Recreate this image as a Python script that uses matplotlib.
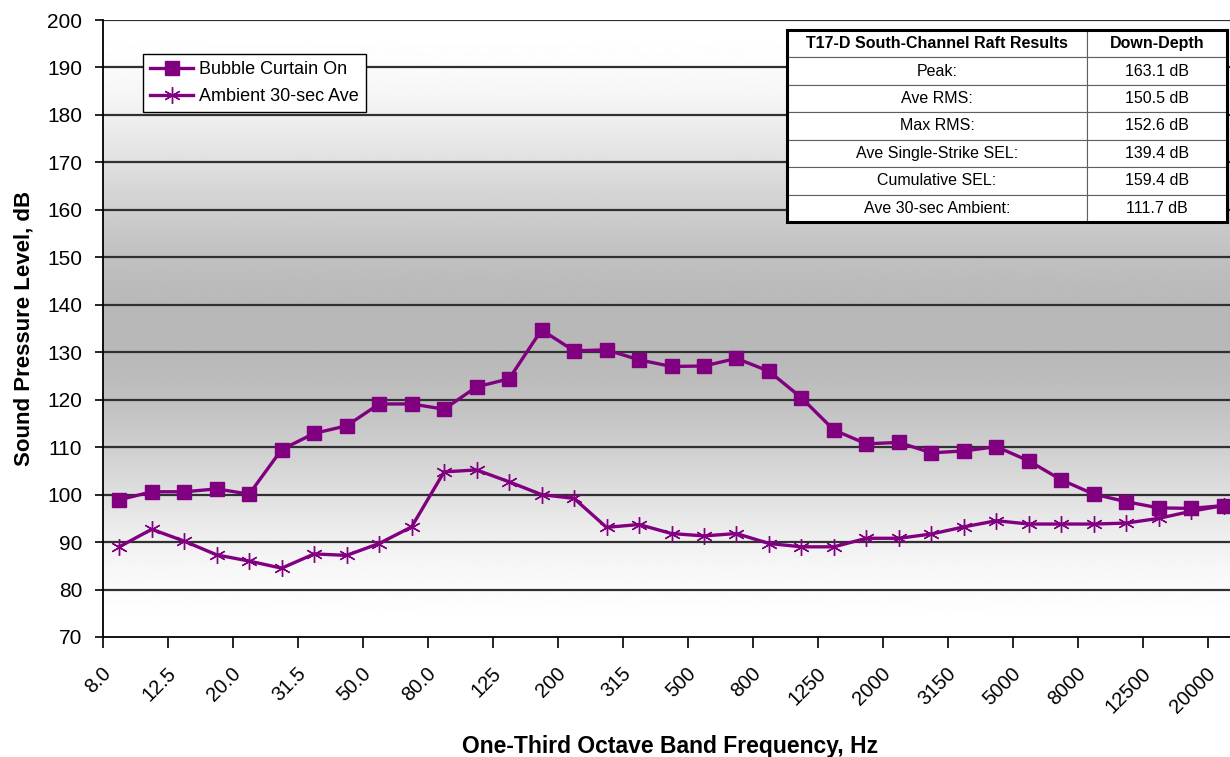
import numpy as np
import matplotlib
matplotlib.use("Agg")
import matplotlib.pyplot as plt
from matplotlib.patches import Rectangle

plt.rcParams['font.family'] = ['Liberation Sans', 'DejaVu Sans']

# one-third octave band centres, Hz
bands = ["8.0", "10.0", "12.5", "16.0", "20.0", "25.0", "31.5", "40.0", "50.0", "63.0",
         "80.0", "100", "125", "160", "200", "250", "315", "400", "500", "630",
         "800", "1000", "1250", "1600", "2000", "2500", "3150", "4000", "5000", "6300",
         "8000", "10000", "12500", "16000", "20000"]

bubble_on = [98.9, 100.6, 100.6, 101.2, 100.1, 109.5, 112.9, 114.5, 119.1, 119.1,
             118.0, 122.7, 124.4, 134.7, 130.3, 130.5, 128.4, 127.0, 127.1, 128.7,
             126.0, 120.4, 113.6, 110.7, 111.0, 108.8, 109.2, 110.1, 107.1, 103.1,
             100.1, 98.5, 97.2, 97.1, 97.7]

ambient = [89.0, 92.7, 90.2, 87.3, 86.0, 84.5, 87.5, 87.2, 89.7, 93.2,
           104.8, 105.2, 102.7, 100.0, 99.2, 93.1, 93.7, 91.8, 91.3, 91.8,
           89.7, 89.0, 89.0, 90.8, 90.8, 91.7, 93.2, 94.5, 93.8, 93.8,
           93.8, 94.0, 95.0, 96.5, 97.7]

table_title = "T17-D South-Channel Raft Results"
table_col = "Down-Depth"
metric_names = ["Peak:", "Ave RMS:", "Max RMS:", "Ave Single-Strike SEL:",
                "Cumulative SEL:", "Ave 30-sec Ambient:"]
metric_values = ["163.1 dB", "150.5 dB", "152.6 dB", "139.4 dB", "159.4 dB", "111.7 dB"]

PURPLE = "#800080"

fig = plt.figure(figsize=(12.3, 7.57), dpi=100)
ax = fig.add_axes([103 / 1230, 120 / 757, 1137 / 1230, 617 / 757])

x = np.arange(len(bands))
ymin, ymax = 70, 200
ax.set_xlim(-0.5, len(bands) - 0.5)
ax.set_ylim(ymin, ymax)

# grey band in the middle fading to white at top and bottom
t = np.linspace(0, 1, 256)
shade = 1.0 - 0.28 * np.sin(np.pi * t) ** 2
grad = np.repeat(shade[:, None], 2, axis=1)
ax.imshow(grad, cmap="gray", vmin=0, vmax=1, aspect="auto", origin="lower",
          extent=(-0.5, len(bands) - 0.5, ymin, ymax), zorder=0)

for v in range(ymin + 10, ymax + 1, 10):
    ax.axhline(v, color="#303030", lw=1.6, zorder=1)

ax.plot(x, bubble_on, color=PURPLE, lw=2.4, marker="s", ms=10,
        label="Bubble Curtain On", zorder=3)
ax.plot(x, ambient, color=PURPLE, lw=2.4, marker=(6, 2, 0), ms=12, mew=1.0,
        label="Ambient 30-sec Ave", zorder=3)

ax.set_yticks(range(ymin, ymax + 1, 10))
ax.tick_params(axis="y", labelsize=15, length=6, width=1.2, direction="out", pad=9)

# ticks on every second category boundary, labels on every second category
ax.set_xticks(np.arange(-0.5, len(bands), 2))
ax.set_xticklabels([])
ax.tick_params(axis="x", length=8, width=1.2, direction="out")
for i in range(0, len(bands), 2):
    ax.text(i - 0.55, ymin - 5.6, bands[i], rotation=45, ha="right", va="top",
            fontsize=14.5, rotation_mode="anchor", clip_on=False)

for side in ["top", "right"]:
    ax.spines[side].set_visible(False)
ax.spines["left"].set_linewidth(1.3)
ax.spines["bottom"].set_linewidth(1.3)

ax.set_ylabel("Sound Pressure Level, dB", fontsize=16, fontweight="bold")
ax.yaxis.set_label_coords(-0.060, 0.5)
fig.text(670 / 1230, 11 / 757, "One-Third Octave Band Frequency, Hz", fontsize=16.5,
         fontweight="bold", ha="center", va="center")

leg = ax.legend(loc="upper left", bbox_to_anchor=(0.035, 0.945), fontsize=13,
                frameon=True, fancybox=False, borderpad=0.4, labelspacing=0.55,
                handlelength=2.4, handletextpad=0.3, borderaxespad=0)
leg.get_frame().set_edgecolor("black")
leg.get_frame().set_linewidth(1.0)
leg.get_frame().set_facecolor("white")
leg.get_frame().set_alpha(1)

# results table
cells = [[n, v] for n, v in zip(metric_names, metric_values)]
tx0 = (787 - 103) / 1137
ty0 = (637 - 222) / 617
tw = 440 / 1137
th = 192 / 617
tab = ax.table(cellText=cells, colLabels=[table_title, table_col],
               colWidths=[0.682, 0.318], cellLoc="center",
               bbox=[tx0, ty0, tw, th], zorder=5)
tab.auto_set_font_size(False)
tab.set_fontsize(11.5)
for (r, c), cell in tab.get_celld().items():
    cell.set_edgecolor("#606060")
    cell.set_linewidth(0.8)
    cell.set_facecolor("white")
    if r == 0:
        cell.get_text().set_fontweight("bold")
ax.add_patch(Rectangle((tx0, ty0), tw, th, transform=ax.transAxes, fill=False,
                       edgecolor="black", lw=2.2, zorder=6, clip_on=False))

fig.savefig("out.png", dpi=100)
